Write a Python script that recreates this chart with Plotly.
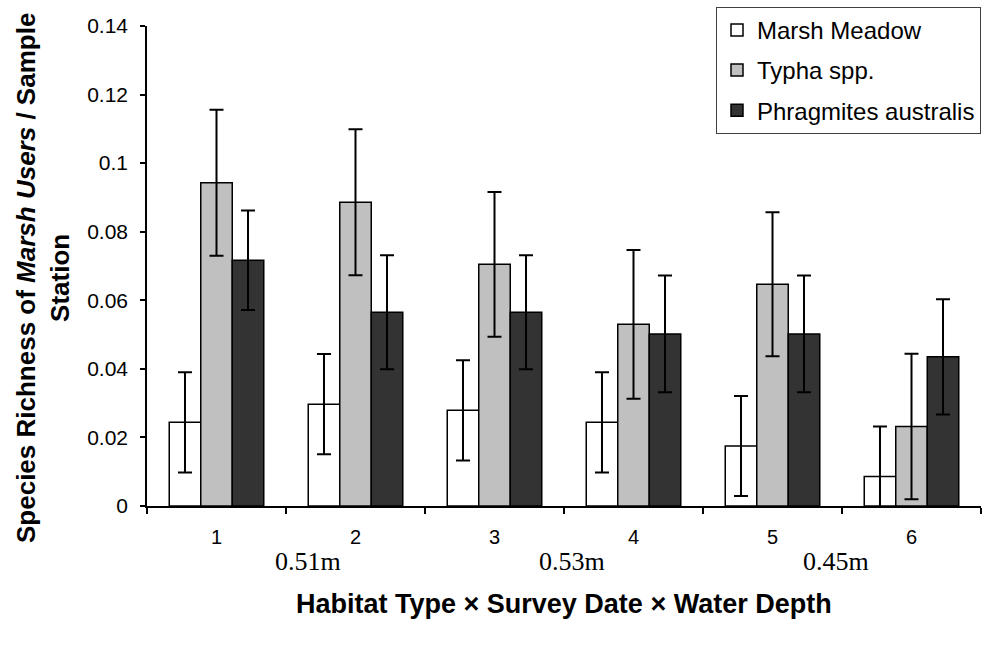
import plotly.graph_objects as go

# Survey dates (x categories)
dates = ["1", "2", "3", "4", "5", "6"]

# Mean species richness of marsh users per sample station, with standard errors
marsh_meadow = [0.0244, 0.0297, 0.0279, 0.0244, 0.0175, 0.0086]
marsh_meadow_se = [0.0146, 0.0146, 0.0146, 0.0146, 0.0146, 0.0146]

typha = [0.0943, 0.0886, 0.0705, 0.0530, 0.0647, 0.0232]
typha_se = [0.0213, 0.0213, 0.0211, 0.0217, 0.0210, 0.0212]

phragmites = [0.0717, 0.0565, 0.0565, 0.0502, 0.0502, 0.0435]
phragmites_se = [0.0145, 0.0166, 0.0166, 0.0170, 0.0170, 0.0168]

# Water depth labels shown beneath pairs of survey dates
depth_labels = ["0.51m", "0.53m", "0.45m"]

series = [
    ("Marsh Meadow", marsh_meadow, marsh_meadow_se, "#FFFFFF"),
    ("Typha spp.", typha, typha_se, "#C0C0C0"),
    ("Phragmites australis", phragmites, phragmites_se, "#333333"),
]

fig = go.Figure()
for i, (name, vals, se, color) in enumerate(series):
    fig.add_trace(go.Bar(
        x=dates, y=vals, name=name,
        legendgroup=f"g{i}",
        marker=dict(color=color, line=dict(color="#000000", width=1.5)),
        error_y=dict(type="data", array=se, visible=True,
                     color="#000000", thickness=2, width=7),
    ))

sans = "Liberation Sans, Arial, sans-serif"
serif = "Liberation Serif, Times New Roman, serif"

fig.update_layout(
    width=982, height=645,
    margin=dict(l=147, r=1, t=26, b=139),
    paper_bgcolor="#FFFFFF", plot_bgcolor="#FFFFFF",
    barmode="group", bargap=0.32, bargroupgap=0,
    font=dict(family=sans, color="#000000"),
    showlegend=True,
    legend=dict(
        x=1, xanchor="right", y=1.04, yanchor="top",
        bgcolor="#FFFFFF", bordercolor="#404040", borderwidth=1,
        font=dict(family=sans, size=24, color="#000000"),
        tracegroupgap=6, traceorder="grouped",
        itemwidth=30, itemclick=False,
    ),
    xaxis=dict(
        type="category", tickson="boundaries",
        showline=True, linecolor="#000000", linewidth=1.5,
        ticks="outside", ticklen=6, tickwidth=1.5, tickcolor="#000000",
        tickfont=dict(family=sans, size=20), ticklabelstandoff=12,
        showgrid=False, zeroline=False,
    ),
    yaxis=dict(
        range=[0, 0.14], dtick=0.02,
        showline=True, linecolor="#000000", linewidth=1.5,
        ticks="outside", ticklen=5, tickwidth=1.5, tickcolor="#000000",
        tickfont=dict(family=sans, size=21), ticklabelstandoff=8,
        showgrid=False, zeroline=False,
    ),
)

# Water depth labels
depth_x = [0.658, 2.558, 4.457]
for lbl, xv in zip(depth_labels, depth_x):
    fig.add_annotation(
        x=xv, xref="x", y=-0.115, yref="paper",
        text=lbl, showarrow=False, xanchor="center", yanchor="middle",
        font=dict(family=serif, size=26, color="#000000"),
    )

# Axis titles
fig.add_annotation(
    x=0.5, xref="paper", y=-0.204, yref="paper",
    text="<b>Habitat Type × Survey Date × Water Depth</b>",
    showarrow=False, xanchor="center", yanchor="middle",
    font=dict(family=sans, size=27, color="#000000"),
)
fig.add_annotation(
    x=-0.1247, xref="paper", y=0.475, yref="paper",
    text="<b>Species Richness of <i>Marsh Users</i> / Sample<br>Station</b>",
    showarrow=False, textangle=-90, xanchor="center", yanchor="middle",
    font=dict(family=sans, size=26, color="#000000"),
)

fig.write_html("out.html")
